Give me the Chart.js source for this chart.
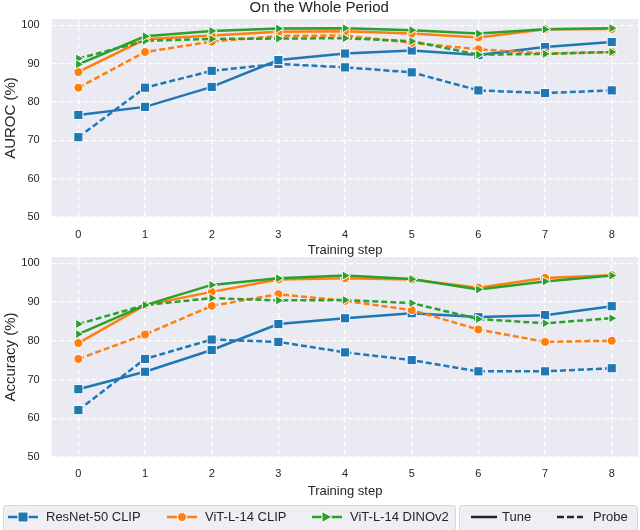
<!DOCTYPE html>
<html>
<head>
<meta charset="utf-8">
<script src="https://cdn.jsdelivr.net/npm/chart.js@4.4.1/dist/chart.umd.min.js"></script>
<style>
body { margin: 0; background: #fff; width: 640px; height: 530px; position: relative; overflow: hidden;
       font-family: "Liberation Sans", Arial, sans-serif; color: #262626; }
canvas { position: absolute; left: 0; }
#aurocChart { top: 0; }
#accChart { top: 238px; }
.legbox { position: absolute; top: 505px; height: 24px; background: #eeeef4; border: 1px solid #d6d6de; border-radius: 3px; }
.item { position: absolute; top: 509px; height: 16px; line-height: 16px; font-size: 13px; white-space: nowrap; }
.item svg { position: absolute; left: 0; top: 0; }
</style>
</head>
<body>
<canvas id="aurocChart" width="640" height="262"></canvas>
<canvas id="accChart" width="640" height="262"></canvas>

<div class="legbox" style="left:3px; width:451px;"></div>
<div class="legbox" style="left:459px; width:177px;"></div>

<div class="item" style="left:7px;"><svg width="32" height="16"><line x1="1" y1="8" x2="31" y2="8" stroke="#1f77b4" stroke-width="2.5"/><rect x="11" y="3" width="10" height="10" fill="#1f77b4" stroke="#fff" stroke-width="1"/></svg><span style="margin-left:39px">ResNet-50 CLIP</span></div>
<div class="item" style="left:166px;"><svg width="32" height="16"><line x1="1" y1="8" x2="31" y2="8" stroke="#ff7f0e" stroke-width="2.5"/><circle cx="16" cy="8" r="4.5" fill="#ff7f0e" stroke="#fff" stroke-width="1"/></svg><span style="margin-left:39px">ViT-L-14 CLIP</span></div>
<div class="item" style="left:311px;"><svg width="32" height="16"><line x1="1" y1="8" x2="31" y2="8" stroke="#2ca02c" stroke-width="2.5"/><polygon points="11,2.5 21,8 11,13.5" fill="#2ca02c" stroke="#fff" stroke-width="1"/></svg><span style="margin-left:39px">ViT-L-14 DINOv2</span></div>
<div class="item" style="left:470px;"><svg width="28" height="16"><line x1="1" y1="8" x2="27" y2="8" stroke="#262626" stroke-width="2.5"/></svg><span style="margin-left:32px">Tune</span></div>
<div class="item" style="left:556px;"><svg width="28" height="16"><line x1="1" y1="8" x2="27" y2="8" stroke="#262626" stroke-width="2.5" stroke-dasharray="7,3"/></svg><span style="margin-left:37px">Probe</span></div>

<script>
const steps = [0, 1, 2, 3, 4, 5, 6, 7, 8];
const yTicks = [50, 60, 70, 80, 90, 100];

// AUROC, top panel
const aurocResnetTune  = [76.6, 78.7, 83.9, 90.9, 92.6, 93.4, 92.2, 94.3, 95.6];
const aurocResnetProbe = [70.8, 83.7, 88.1, 89.9, 89.0, 87.7, 83.0, 82.3, 83.0];
const aurocClipTune    = [87.8, 96.3, 97.3, 98.3, 98.4, 97.8, 96.8, 98.9, 99.0];
const aurocClipProbe   = [83.7, 93.0, 95.7, 97.2, 97.3, 95.4, 93.7, 92.6, 93.0];
const aurocDinoTune    = [89.8, 97.1, 98.5, 99.1, 99.2, 98.7, 97.8, 98.9, 99.2];
const aurocDinoProbe   = [91.3, 95.9, 96.4, 96.5, 96.6, 95.8, 92.3, 92.5, 93.0];

// Accuracy, bottom panel
const accResnetTune  = [67.5, 72.0, 77.6, 84.3, 85.8, 87.1, 86.1, 86.6, 88.9];
const accResnetProbe = [62.1, 75.3, 80.3, 79.7, 77.0, 75.0, 72.1, 72.1, 72.9];
const accClipTune    = [79.4, 89.2, 92.6, 95.8, 96.1, 95.8, 93.7, 96.2, 96.9];
const accClipProbe   = [75.3, 81.6, 89.0, 92.0, 90.3, 87.9, 82.9, 79.7, 80.0];
const accDinoTune    = [81.7, 89.2, 94.4, 96.1, 96.8, 95.9, 93.2, 95.3, 96.8];
const accDinoProbe   = [84.3, 89.2, 91.0, 90.4, 90.5, 89.7, 85.6, 84.5, 85.8];

const BLUE = '#1f77b4', ORANGE = '#ff7f0e', GREEN = '#2ca02c';

const models = {
    resnet: { color: BLUE, pointStyle: 'rect', radius: 6.5, rotation: 0, order: 3 },
    clip: { color: ORANGE, pointStyle: 'circle', radius: 4.5, rotation: 0, order: 2 },
    dino: { color: GREEN, pointStyle: 'triangle', radius: 5.5, rotation: 90, order: 1 },
};

function series(model, values, dashed) {
    const m = models[model];
    return {
        data: steps.map((s, i) => ({ x: s, y: values[i] })),
        borderColor: m.color,
        backgroundColor: m.color,
        borderWidth: 2.5,
        borderDash: dashed ? [6, 3] : [],
        pointStyle: m.pointStyle,
        pointRadius: m.radius,
        pointRotation: m.rotation,
        pointBackgroundColor: m.color,
        pointBorderColor: '#fff',
        pointBorderWidth: 1,
        tension: 0,
        order: m.order,
    };
}

const panelBg = {
    id: 'panelBg',
    beforeDraw(chart) {
        const a = chart.chartArea;
        chart.ctx.save();
        chart.ctx.fillStyle = '#eaeaf2';
        chart.ctx.fillRect(a.left, a.top, a.right - a.left, a.bottom - a.top);
        chart.ctx.restore();
    }
};

function makeChart(id, yLabel, datasets, opts) {
    const ctx = document.getElementById(id).getContext('2d');
    // eslint-disable-next-line no-undef
    return new Chart(ctx, {
        type: 'line',
        data: { datasets: datasets },
        plugins: [panelBg],
        options: {
            responsive: false,
            animation: false,
            events: [],
            layout: { autoPadding: false, padding: { top: opts.padTop, right: 1.6, left: 0, bottom: 0 } },
            plugins: {
                legend: { display: false },
                tooltip: { enabled: false },
                title: {
                    display: !!opts.title,
                    text: opts.title,
                    color: '#262626',
                    font: { family: 'Liberation Sans', size: 15, weight: 'normal', lineHeight: 1.0 },
                    padding: { top: 0, bottom: 4 },
                },
            },
            scales: {
                x: {
                    type: 'linear',
                    min: -0.4,
                    max: 8.4,
                    afterBuildTicks: (s) => { s.ticks = steps.map(v => ({ value: v })); },
                    afterFit: (s) => { s.height = opts.xHeight; s.paddingLeft = 0; s.paddingRight = 0; },
                    grid: { color: '#ffffff', lineWidth: 1.2, drawTicks: false },
                    border: { display: false, dash: [5, 3] },
                    ticks: { color: '#262626', padding: opts.xTickPad, font: { family: 'Liberation Sans', size: 11 }, maxRotation: 0 },
                    title: {
                        display: true, text: 'Training step', color: '#262626',
                        font: { family: 'Liberation Sans', size: 13 },
                        padding: { top: 0, bottom: opts.xTitlePad },
                    },
                },
                y: {
                    min: 50,
                    max: 101.6,
                    afterBuildTicks: (s) => { s.ticks = yTicks.map(v => ({ value: v })); },
                    afterFit: (s) => { s.width = 51.7; s.paddingTop = 0; s.paddingBottom = 0; },
                    grid: { color: '#ffffff', lineWidth: 1.2, drawTicks: false },
                    border: { display: false, dash: [5, 3] },
                    ticks: { color: '#262626', padding: 12, font: { family: 'Liberation Sans', size: 11 } },
                    title: {
                        display: true, text: yLabel, color: '#262626',
                        font: { family: 'Liberation Sans', size: 15 },
                        padding: { top: 2, bottom: 0 },
                    },
                },
            },
        },
    });
}

makeChart('aurocChart', 'AUROC (%)', [
    series('resnet', aurocResnetTune, false),
    series('resnet', aurocResnetProbe, true),
    series('clip', aurocClipTune, false),
    series('clip', aurocClipProbe, true),
    series('dino', aurocDinoTune, false),
    series('dino', aurocDinoProbe, true),
], { title: 'On the Whole Period', padTop: 0, xHeight: 45, xTickPad: 11, xTitlePad: 4 });

makeChart('accChart', 'Accuracy (%)', [
    series('resnet', accResnetTune, false),
    series('resnet', accResnetProbe, true),
    series('clip', accClipTune, false),
    series('clip', accClipProbe, true),
    series('dino', accDinoTune, false),
    series('dino', accDinoProbe, true),
], { title: '', padTop: 19, xHeight: 43, xTickPad: 10.5, xTitlePad: 0.5 });
</script>
</body>
</html>
